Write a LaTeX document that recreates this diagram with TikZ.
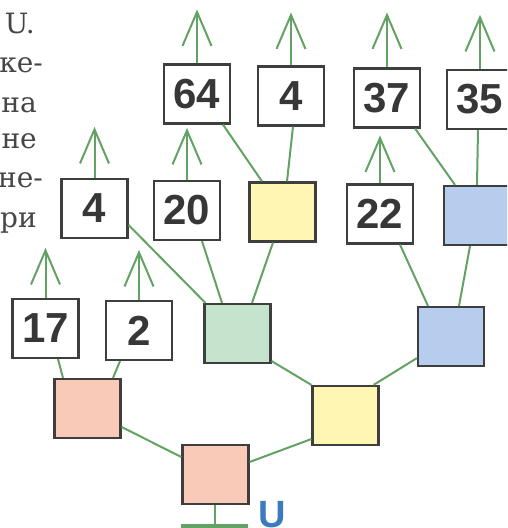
\documentclass[tikz,border=0pt]{standalone}
\usepackage{fontspec}
\setsansfont{Liberation Sans}
\newfontfamily\txtfont{DejaVu Serif}
\usetikzlibrary{arrows.meta}
\definecolor{wireg}{RGB}{98,162,98}
\definecolor{boxline}{RGB}{62,62,62}
\definecolor{numtext}{RGB}{55,55,55}
\definecolor{txtgray}{RGB}{70,70,70}
\definecolor{ublue}{RGB}{60,122,192}
\definecolor{pinkF}{RGB}{250,202,184}
\definecolor{yellowF}{RGB}{255,246,180}
\definecolor{greenF}{RGB}{196,228,205}
\definecolor{blueF}{RGB}{182,205,238}
\begin{document}
\begin{tikzpicture}[x=1pt,y=-1pt,
  box/.style={draw=boxline,line width=2.2pt,minimum width=66pt,minimum height=59pt,inner sep=0pt,
    font=\sffamily\bfseries\fontsize{42}{42}\selectfont,text=numtext},
  wire/.style={wireg,line width=2pt},
  up/.style={wireg,line width=2pt,-{Straight Barb[length=34pt,width=29pt]}},
  txt/.style={anchor=base east,inner sep=0pt,font=\txtfont\fontsize{28}{28}\selectfont,text=txtgray}]
  \useasboundingbox (0,0) rectangle (507,528);
  \clip (0,0) rectangle (507,528);
  \node[txt] (l1) at (35,33) {U.};
  \node[txt] (l2) at (43,72) {ке-};
  \node[txt] (l3) at (37,112) {на};
  \node[txt] (l4) at (37,148) {не};
  \node[txt] (l5) at (43,187) {не-};
  \node[txt] (l6) at (37,227) {ри};
  \node[box] (a64) at (197,94) {64};
  \node[box] (a4) at (291,96) {4};
  \node[box] (a37) at (387,98) {37};
  \node[box] (a35) at (480,99.5) {35};
  \node[box] (b4) at (94.5,208.5) {4};
  \node[box] (b20) at (187,210.5) {20};
  \node[box,fill=yellowF] (bY) at (282.5,212) {};
  \node[box] (b22) at (380,214) {22};
  \node[box,fill=blueF] (bB) at (477,215.5) {};
  \node[box] (c17) at (45.5,328.5) {17};
  \node[box] (c2) at (139,330.5) {2};
  \node[box,fill=greenF] (cG) at (237.5,333.5) {};
  \node[box,fill=blueF] (cB) at (451,336.5) {};
  \node[box,fill=pinkF] (dP) at (87.5,408.5) {};
  \node[box,fill=yellowF] (dY) at (345.5,415.5) {};
  \node[box,fill=pinkF] (eP) at (215.5,474.5) {};
  \foreach \n/\l in {a64/54,a4/53,a37/55,a35/54,b4/51,b20/52,b22/48,c17/50,c2/50}
    \draw[up] (\n.north) -- ([yshift=\l pt]\n.north);
  \draw[wire] ([xshift=26pt]a64.south) -- ([xshift=-20.5pt]bY.north);
  \draw[wire] ([xshift=2pt]a4.south) -- ([xshift=4.5pt]bY.north);
  \draw[wire] ([xshift=-6pt]a37.south east) -- ([xshift=-22pt]bB.north);
  \draw[wire] ([xshift=-2pt]a35.south) -- (bB.north);
  \draw[wire] ([yshift=-16.5pt]b4.east) -- ([xshift=2pt]cG.north west);
  \draw[wire] ([xshift=15pt]b20.south) -- ([xshift=-15.5pt]cG.north);
  \draw[wire] ([xshift=-9.5pt]bY.south) -- ([xshift=14.5pt]cG.north);
  \draw[wire] ([xshift=20pt]b22.south) -- ([xshift=-23pt]cB.north);
  \draw[wire] ([xshift=-7pt]bB.south) -- ([xshift=8pt]cB.north);
  \draw[wire] ([xshift=12.5pt]c17.south) -- ([xshift=-24.5pt]dP.north);
  \draw[wire] ([xshift=-19pt]c2.south) -- ([xshift=25.5pt]dP.north);
  \draw[wire] ([yshift=3pt]cG.south east) -- (dY.north west);
  \draw[wire] ([xshift=-6pt]dY.north east) -- ([yshift=9pt]cB.south west);
  \draw[wire] ([yshift=-18.5pt]dP.east) -- ([yshift=17.5pt]eP.west);
  \draw[wire] ([yshift=12.5pt]eP.east) -- ([yshift=-23.5pt]dY.west);
  \coordinate (gnd) at (214.5,526);
  \draw[wire] ([xshift=-1pt]eP.south) -- (gnd);
  \draw[wireg,line width=5pt] ([xshift=-34pt]gnd) -- ([xshift=33pt]gnd);
  \node[anchor=north,inner sep=0pt,font=\sffamily\bfseries\fontsize{38}{38}\selectfont,text=ublue] (u) at (272.5,501.5) {U};
\end{tikzpicture}
\end{document}
